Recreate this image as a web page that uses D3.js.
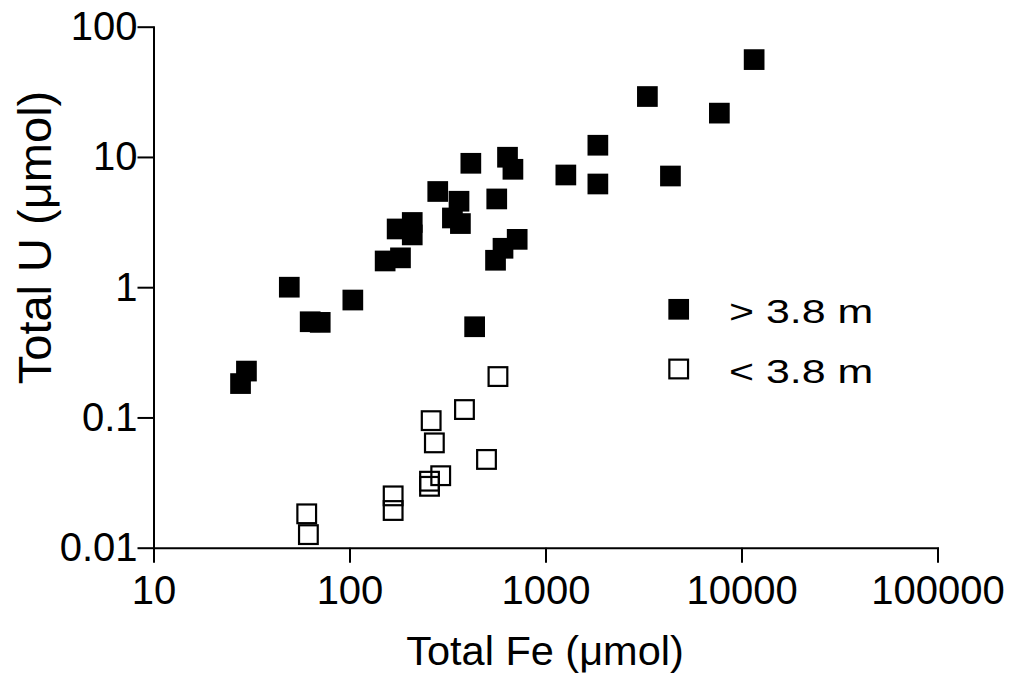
<!DOCTYPE html>
<html>
<head>
<meta charset="utf-8">
<script src="https://cdn.jsdelivr.net/npm/d3@7"></script>
<style>
  html, body { margin: 0; padding: 0; background: #fff; }
  svg { display: block; }
  text { font-family: "Liberation Sans", Arial, Helvetica, sans-serif; fill: #000; }
</style>
</head>
<body>
<svg id="chart" width="1013" height="680"></svg>
<script>
// Samples collected deeper than 3.8 m (filled squares)
const deepFe = [27.8, 29.8, 49.3, 63.0, 70.9, 104, 152, 182, 175, 209, 209, 282, 362, 335, 368, 416, 435, 564, 640, 682, 556, 607, 717, 1270, 1850, 1850, 3310, 4340, 7710, 11600];
const deepU  = [0.182, 0.227, 1.0, 0.543, 0.537, 0.797, 1.59, 1.68, 2.80, 3.14, 2.52, 5.43, 4.57, 3.40, 3.08, 8.94, 0.497, 4.76, 9.95, 8.04, 1.61, 1.99, 2.33, 7.27, 12.3, 6.20, 29.1, 7.14, 21.7, 55.9];

// Samples collected shallower than 3.8 m (open squares)
const shallowFe = [572, 386, 261, 271, 500, 292, 256, 256, 167, 167, 60.5, 61.7];
const shallowU  = [0.206, 0.115, 0.0945, 0.0638, 0.0476, 0.0357, 0.0324, 0.0296, 0.025, 0.0193, 0.0182, 0.0126];

// Axis ticks and labels
const xTicks = [10, 100, 1000, 10000, 100000];
const xTickLabels = ["10", "100", "1000", "10000", "100000"];
const yTicks = [0.01, 0.1, 1, 10, 100];
const yTickLabels = ["0.01", "0.1", "1", "10", "100"];

const legendLabels = ["> 3.8 m", "< 3.8 m"];

const svg = d3.select("#chart");

const x = d3.scaleLog().domain([10, 100000]).range([153.5, 937.5]);
const y = d3.scaleLog().domain([0.01, 100]).range([547.7, 26.7]);

const axisX = svg.append("g")
  .attr("transform", `translate(0,${y(0.01)})`)
  .call(d3.axisBottom(x)
    .tickValues(xTicks)
    .tickFormat((d, i) => xTickLabels[i])
    .tickSize(15)
    .tickSizeOuter(0)
    .tickPadding(13));

const axisY = svg.append("g")
  .attr("transform", `translate(${x(10)},0)`)
  .call(d3.axisLeft(y)
    .tickValues(yTicks)
    .tickFormat((d, i) => yTickLabels[i])
    .tickSize(16)
    .tickSizeOuter(0)
    .tickPadding(0));

[axisX, axisY].forEach(g => {
  g.selectAll("path, line").attr("stroke", "#000").attr("stroke-width", 2);
  g.selectAll("text")
    .attr("font-size", 40)
    .attr("font-family", "'Liberation Sans', Arial, sans-serif")
    .attr("fill", "#000");
});
axisX.select(".domain").attr("stroke-linecap", "square");
axisY.select(".domain").attr("stroke-linecap", "square");

// Axis titles
svg.append("text")
  .attr("x", 545)
  .attr("y", 665)
  .attr("text-anchor", "middle")
  .attr("font-size", 41.5)
  .text("Total Fe (\u03BCmol)");

svg.append("text")
  .attr("transform", "translate(51,237.5) rotate(-90)")
  .attr("text-anchor", "middle")
  .attr("font-size", 47)
  .text("Total U (\u03BCmol)");

const S = 20.7;

// Open squares first, filled squares on top
svg.append("g")
  .selectAll("rect")
  .data(shallowFe.map((fe, i) => [fe, shallowU[i]]))
  .join("rect")
  .attr("x", d => x(d[0]) - S / 2 + 1)
  .attr("y", d => y(d[1]) - S / 2 + 1)
  .attr("width", S - 2)
  .attr("height", S - 2)
  .attr("fill", "none")
  .attr("stroke", "#000")
  .attr("stroke-width", 2.2);

svg.append("g")
  .selectAll("rect")
  .data(deepFe.map((fe, i) => [fe, deepU[i]]))
  .join("rect")
  .attr("x", d => x(d[0]) - S / 2)
  .attr("y", d => y(d[1]) - S / 2)
  .attr("width", S)
  .attr("height", S)
  .attr("fill", "#000");

// Legend
const legend = svg.append("g");
const legendRows = [309.3, 369];
legendLabels.forEach((lab, i) => {
  const cy = legendRows[i];
  if (i === 0) {
    legend.append("rect")
      .attr("x", 678.7 - S / 2).attr("y", cy - S / 2)
      .attr("width", S).attr("height", S)
      .attr("fill", "#000");
  } else {
    legend.append("rect")
      .attr("x", 678.7 - S / 2 + 1).attr("y", cy - S / 2 + 1)
      .attr("width", S - 2).attr("height", S - 2)
      .attr("fill", "none").attr("stroke", "#000").attr("stroke-width", 2.2);
  }
  legend.append("text")
    .attr("transform", `translate(729,${cy + 13.5}) scale(1.3,1)`)
    .attr("font-size", 33)
    .text(lab);
});
</script>
</body>
</html>
